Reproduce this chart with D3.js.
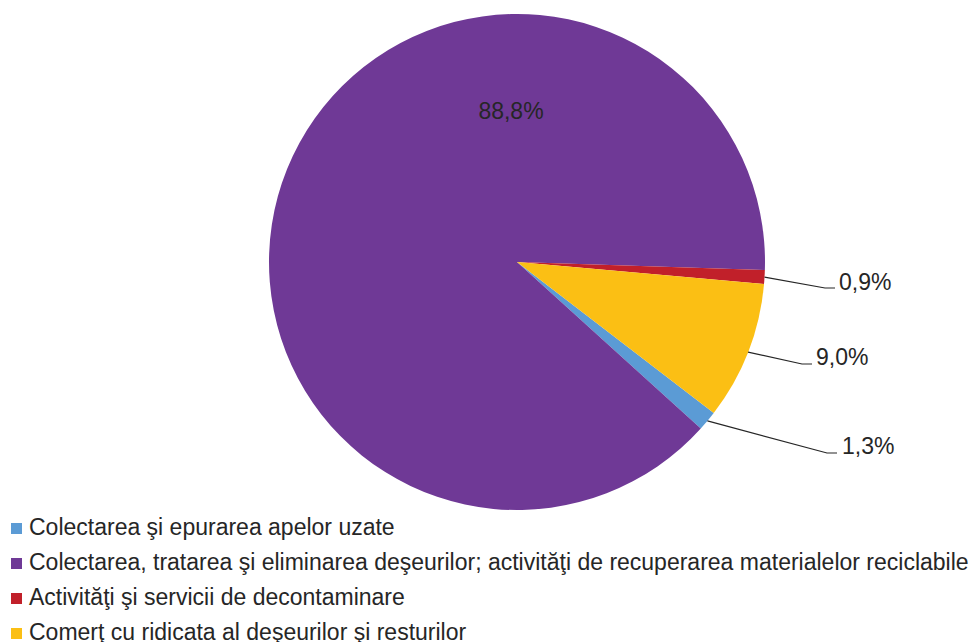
<!DOCTYPE html>
<html>
<head>
<meta charset="utf-8">
<script src="https://cdn.jsdelivr.net/npm/d3@7"></script>
<style>
  html, body { margin: 0; padding: 0; background: #fff; }
  svg { display: block; font-family: "Liberation Sans", Arial, sans-serif; }
</style>
</head>
<body>
<svg id="chart" width="978" height="642"></svg>
<script>
// ---- data ----
const categories = [
  "Colectarea şi epurarea apelor uzate",
  "Colectarea, tratarea şi eliminarea deşeurilor; activităţi de recuperarea materialelor reciclabile",
  "Activităţi şi servicii de decontaminare",
  "Comerţ cu ridicata al deşeurilor şi resturilor"
];
const values = [1.3, 88.8, 0.9, 9.0];
const valueLabels = ["1,3%", "88,8%", "0,9%", "9,0%"];
const colors = ["#5B9BD5", "#6F3996", "#C1202A", "#FBBF14"];

// ---- layout ----
const W = 978, H = 642;
const cx = 517, cy = 262, R = 248;
const startDeg = 127.5;
const fontSize = 23;
// outside-label elbow points relative to pie centre (inside = label inside slice)
const labelLayout = [
  { elbow: [310, 191], text: [325, 184] },
  { inside: [-6, -151] },
  { elbow: [308, 26], text: [322, 20] },
  { elbow: [285, 102], text: [299, 95] }
];

const svg = d3.select("#chart");
const g = svg.append("g").attr("transform", `translate(${cx},${cy})`);

const start = startDeg * Math.PI / 180;
const pie = d3.pie().sort(null).value(d => d).startAngle(start).endAngle(start + 2 * Math.PI);
const arcs = pie(values);
const arc = d3.arc().innerRadius(0).outerRadius(R);

g.selectAll("path.slice").data(arcs).join("path")
  .attr("class", "slice")
  .attr("d", arc)
  .attr("fill", (d, i) => colors[i])
  .attr("stroke", "none");

// labels
arcs.forEach((d, i) => {
  const L = labelLayout[i];
  if (L.inside) {
    g.append("text")
      .attr("x", L.inside[0]).attr("y", L.inside[1])
      .attr("text-anchor", "middle").attr("dominant-baseline", "central")
      .attr("font-size", fontSize).attr("fill", "#262626")
      .text(valueLabels[i]);
    return;
  }
  const mid = (d.startAngle + d.endAngle) / 2;
  const ex = R * Math.sin(mid), ey = -R * Math.cos(mid);
  const [bx, by] = L.elbow;
  g.append("polyline")
    .attr("points", [[ex, ey], [bx, by], [bx + 10, by]].map(p => p.join(",")).join(" "))
    .attr("fill", "none").attr("stroke", "#262626").attr("stroke-width", 1.2);
  g.append("text")
    .attr("x", L.text[0]).attr("y", L.text[1])
    .attr("dominant-baseline", "central")
    .attr("font-size", fontSize).attr("fill", "#262626")
    .text(valueLabels[i]);
});

// legend
const legendY = d3.scaleBand().domain(d3.range(categories.length)).range([511, 651]);
const lg = svg.append("g");
const items = lg.selectAll("g").data(categories).join("g")
  .attr("transform", (d, i) => `translate(0,${legendY(i) + legendY.bandwidth() / 2})`);
items.append("rect").attr("x", 11).attr("y", -5.5).attr("width", 11).attr("height", 11)
  .attr("fill", (d, i) => colors[i]);
items.append("text").attr("x", 29).attr("y", 6.5)
  .attr("font-size", fontSize).attr("fill", "#262626")
  .text(d => d);
</script>
</body>
</html>
